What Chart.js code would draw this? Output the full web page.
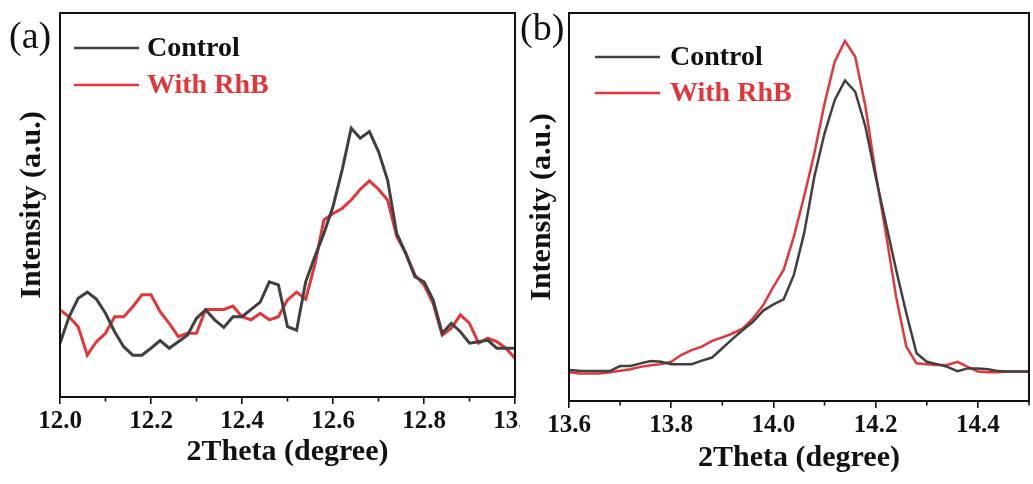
<!DOCTYPE html>
<html><head><meta charset="utf-8">
<script src="https://cdn.jsdelivr.net/npm/chart.js@4.4.1/dist/chart.umd.min.js"></script>
<style>
html,body{margin:0;padding:0;background:#fff;}
#wrap{position:relative;width:1033px;height:484px;overflow:hidden;background:#fff;}
#ca{position:absolute;left:0;top:0;}
#cb{position:absolute;left:520px;top:0;background:#fff;z-index:2;}
.lab{position:absolute;font-family:"Liberation Serif","Times New Roman",serif;font-size:38px;line-height:38px;color:#111;z-index:3;}
</style></head>
<body><div id="wrap">
<canvas id="ca" width="520" height="484" style="width:520px;height:484px"></canvas>
<canvas id="cb" width="513" height="484" style="width:513px;height:484px"></canvas>
<div class="lab" style="left:9px;top:16px">(a)</div>
<div class="lab" style="left:520px;top:8px">(b)</div>
</div>
<script>
// ---- Panel (a) data: 2Theta 12.00 .. 13.00 step 0.02 ----
const xA = [];
for (let i = 0; i <= 50; i++) xA.push(+(12 + i * 0.02).toFixed(2));
const controlA = [14.0,20.9,25.7,27.3,25.5,21.8,17.0,13.1,10.9,10.9,12.7,14.7,12.7,14.4,16.1,20.5,22.7,20.1,18.1,20.9,
  20.9,22.8,24.7,30.0,29.2,18.3,17.4,30.0,36.5,42.6,49.6,59.1,70.0,67.4,69.1,63.9,56.5,42.6,37.4,31.3,
  30.0,25.3,16.6,19.2,17.0,14.0,14.4,14.8,12.7,12.7,12.7];
const rhbA = [22.7,20.9,18.3,10.9,14.4,16.6,20.9,20.9,23.5,26.6,26.6,22.2,19.2,15.7,16.6,16.6,22.8,22.8,22.8,23.7,
  20.9,20.1,21.8,20.1,20.9,25.3,27.3,25.5,34.4,46.1,47.8,49.1,51.3,54.1,56.3,54.1,51.3,41.8,37.4,31.8,
  29.2,24.4,16.1,17.9,21.4,19.2,14.0,15.3,14.4,12.7,10.1];
const majorTicksA = [12.0,12.2,12.4,12.6,12.8,13.0];
const minorTicksA = [12.1,12.3,12.5,12.7,12.9];

// ---- Panel (b) data: 2Theta 13.60 .. 14.50 step 0.02 ----
const xB = [];
for (let i = 0; i <= 45; i++) xB.push(+(13.6 + i * 0.02).toFixed(2));
const controlB = [8.0,7.8,7.7,7.7,7.7,9.0,9.0,9.7,10.3,10.1,9.5,9.5,9.5,10.4,11.2,13.6,16.0,18.3,20.4,23.3,
  24.9,26.2,32.5,43.2,57.8,69.0,77.6,82.6,79.7,70.7,57.8,45.8,33.8,22.6,12.3,10.1,9.5,8.8,7.7,8.4,
  8.4,8.2,7.7,7.6,7.6,7.6];
const rhbB = [7.4,7.1,7.1,7.1,7.4,7.8,8.2,8.8,9.2,9.5,10.1,11.9,13.1,14.0,15.5,16.4,17.4,18.7,21.3,24.7,
  29.5,33.8,42.4,52.7,63.8,76.7,87.5,92.8,88.7,75.9,58.7,43.2,26.9,14.0,9.7,9.5,9.3,9.3,10.1,8.8,
  7.6,7.4,7.4,7.6,7.6,7.6];
const majorTicksB = [13.6,13.8,14.0,14.2,14.4];
const minorTicksB = [13.7,13.9,14.1,14.3,14.5];

const seriesNames = ['Control','With RhB'];
const seriesColors = ['#404040','#e0373d'];
const FONT = '"Liberation Serif","Times New Roman",serif';

function pts(xs, ys){ return xs.map((x,i)=>({x:x,y:ys[i]})); }

const frame = {
  id:'frame',
  afterDatasetsDraw(chart, args, opts){
    const {ctx, chartArea:a} = chart;
    const xs = chart.scales.x;
    ctx.save();
    ctx.strokeStyle = '#111'; ctx.lineWidth = 2;
    ctx.strokeRect(a.left, a.top, a.right - a.left, a.bottom - a.top);
    ctx.lineWidth = 1.6;
    opts.minor.forEach(v=>{
      const px = xs.getPixelForValue(v);
      ctx.beginPath(); ctx.moveTo(px, a.bottom); ctx.lineTo(px, a.bottom + 4.5); ctx.stroke();
    });
    ctx.font = 'bold 28px ' + FONT;
    ctx.textBaseline = 'middle';
    chart.data.datasets.forEach((ds, i)=>{
      const y = a.top + opts.ly[i];
      ctx.strokeStyle = ds.borderColor; ctx.lineWidth = 2.5;
      ctx.beginPath(); ctx.moveTo(a.left + opts.lx0, y); ctx.lineTo(a.left + opts.lx1, y); ctx.stroke();
      ctx.fillStyle = i === 0 ? '#111' : ds.borderColor;
      ctx.fillText(ds.label, a.left + opts.tx, y + 1);
    });
    ctx.restore();
  }
};

function makeChart(id, xs, c, r, xmin, xmax, major, minor, pad, yW, xH, lw, legendPos){
  return new Chart(document.getElementById(id), {
    type:'line',
    data:{ datasets:[
      {label:seriesNames[0], data:pts(xs,c), borderColor:seriesColors[0], borderWidth:lw, pointRadius:0, tension:0},
      {label:seriesNames[1], data:pts(xs,r), borderColor:seriesColors[1], borderWidth:lw, pointRadius:0, tension:0}
    ]},
    options:{
      responsive:false, animation:false, devicePixelRatio:1,
      layout:{padding:pad},
      plugins:{ legend:{display:false}, tooltip:{enabled:false}, frame:{minor:minor, ...legendPos} },
      scales:{
        x:{ type:'linear', min:xmin, max:xmax,
          afterBuildTicks(s){ s.ticks = major.map(v=>({value:v})); },
          afterFit(s){ s.height = xH; s.paddingLeft = 0; s.paddingRight = 0; },
          ticks:{ color:'#111', font:{family:FONT, size:25, weight:'bold'}, padding:3, maxRotation:0, autoSkip:false,
            callback:(v)=>Number(v).toFixed(1) },
          grid:{ drawOnChartArea:false, tickLength:7, color:'#111', lineWidth:1.6 },
          border:{ display:false },
          title:{ display:true, text:'2Theta (degree)', color:'#111', font:{family:FONT, size:30, weight:'bold'}, padding:{top:0,bottom:0} }
        },
        y:{ min:0, max:100,
          afterFit(s){ s.width = yW; },
          ticks:{ display:false }, grid:{ display:false }, border:{ display:false },
          title:{ display:true, text:'Intensity (a.u.)', color:'#111', font:{family:FONT, size:30, weight:'bold'}, padding:{top:0,bottom:0} }
        }
      }
    },
    plugins:[frame]
  });
}

makeChart('ca', xA, controlA, rhbA, 12.0, 13.0, majorTicksA, minorTicksA,
  {left:14, top:13, right:5, bottom:14}, 46, 73, 3, {lx0:14, lx1:79, tx:87, ly:[35,72]});
makeChart('cb', xB, controlB, rhbB, 13.6, 14.5, majorTicksB, minorTicksB,
  {left:4, top:13, right:4, bottom:8}, 45, 75, 2.5, {lx0:26, lx1:91, tx:101, ly:[44,80]});
</script>
</body></html>
